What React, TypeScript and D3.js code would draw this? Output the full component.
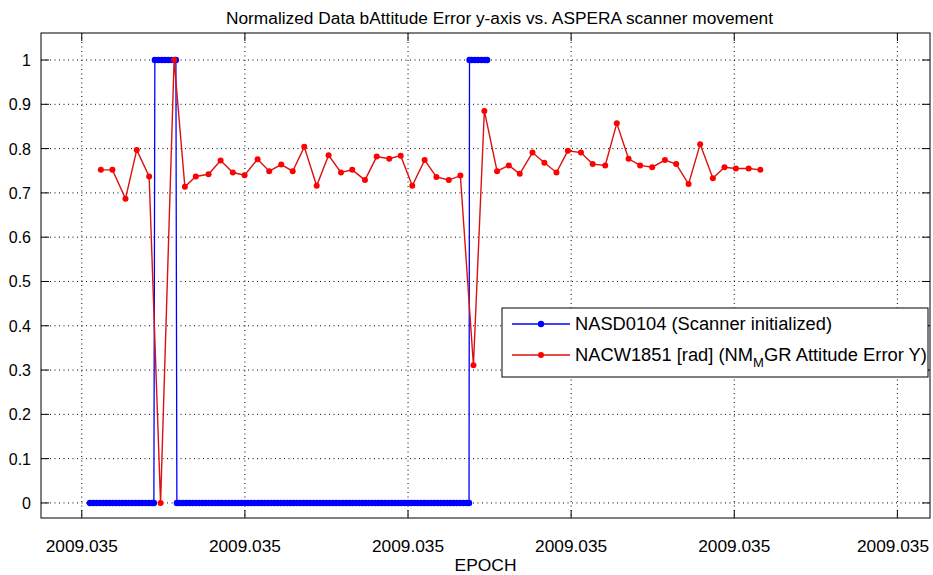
import React from "react";
import * as d3 from "d3";

const title = "Normalized Data bAttitude Error y-axis vs. ASPERA scanner movement";
const xLabel = "EPOCH";
const xTicks = [0, 1, 2, 3, 4, 5];
const xTickLabels = ["2009.035", "2009.035", "2009.035", "2009.035", "2009.035", "2009.035"];
const yTicks = [0, 0.1, 0.2, 0.3, 0.4, 0.5, 0.6, 0.7, 0.8, 0.9, 1];
const yTickLabels = ["0", "0.1", "0.2", "0.3", "0.4", "0.5", "0.6", "0.7", "0.8", "0.9", "1"];

// Red series: NACW1851 (x in tick units, y normalized)
const redX = [0.117, 0.188, 0.268, 0.337, 0.413, 0.483, 0.566, 0.632, 0.699, 0.777, 0.851, 0.926, 0.998, 1.078, 1.149, 1.223, 1.293, 1.364, 1.44, 1.513, 1.589, 1.658, 1.736, 1.808, 1.885, 1.955, 2.026, 2.102, 2.174, 2.25, 2.321, 2.401, 2.468, 2.546, 2.618, 2.685, 2.763, 2.836, 2.91, 2.98, 3.06, 3.132, 3.209, 3.28, 3.352, 3.423, 3.497, 3.575, 3.644, 3.72, 3.791, 3.869, 3.94, 4.01, 4.088, 4.16];
const redY = [0.752, 0.752, 0.687, 0.797, 0.737, 0.0, 1.0, 0.714, 0.737, 0.742, 0.773, 0.746, 0.74, 0.776, 0.749, 0.764, 0.749, 0.804, 0.716, 0.785, 0.746, 0.752, 0.729, 0.782, 0.777, 0.784, 0.716, 0.774, 0.736, 0.729, 0.739, 0.311, 0.885, 0.749, 0.762, 0.743, 0.791, 0.768, 0.746, 0.795, 0.791, 0.765, 0.762, 0.857, 0.777, 0.762, 0.758, 0.774, 0.765, 0.72, 0.81, 0.733, 0.758, 0.755, 0.755, 0.752];

// Blue series: NASD0104, sampled densely, four constant-level stretches
const blueTimesA = [0.05, 0.07, 0.09, 0.11, 0.13, 0.15, 0.17, 0.19, 0.21, 0.23, 0.25, 0.27, 0.29, 0.31, 0.33, 0.35, 0.37, 0.39, 0.41, 0.43, 0.442];
const blueTimesB = [0.448, 0.47, 0.49, 0.51, 0.53, 0.55, 0.57, 0.577];
const blueTimesC = [0.583, 0.6, 0.62, 0.64, 0.66, 0.68, 0.7, 0.72, 0.74, 0.76, 0.78, 0.8, 0.82, 0.84, 0.86, 0.88, 0.9, 0.92, 0.94, 0.96, 0.98, 1.0, 1.02, 1.04, 1.06, 1.08, 1.1, 1.12, 1.14, 1.16, 1.18, 1.2, 1.22, 1.24, 1.26, 1.28, 1.3, 1.32, 1.34, 1.36, 1.38, 1.4, 1.42, 1.44, 1.46, 1.48, 1.5, 1.52, 1.54, 1.56, 1.58, 1.6, 1.62, 1.64, 1.66, 1.68, 1.7, 1.72, 1.74, 1.76, 1.78, 1.8, 1.82, 1.84, 1.86, 1.88, 1.9, 1.92, 1.94, 1.96, 1.98, 2.0, 2.02, 2.04, 2.06, 2.08, 2.1, 2.12, 2.14, 2.16, 2.18, 2.2, 2.22, 2.24, 2.26, 2.28, 2.3, 2.32, 2.34, 2.36, 2.374];
const blueTimesD = [2.377, 2.39, 2.41, 2.43, 2.45, 2.47, 2.485];
const blueLevels = [0, 1, 0, 1];

const legendLabels = ["NASD0104 (Scanner initialized)", "NACW1851 [rad] (NM", "M", "GR Attitude Error Y)"];

const W = 933;
const H = 575;
const L = 41, R = 930, T = 33, B = 518;
const FONT = "'Liberation Sans', Arial, Helvetica, sans-serif";

export default function App() {
  const x = d3.scaleLinear().domain([-0.25, 5.2]).range([L, R]);
  const y = d3.scaleLinear().domain([-0.034, 1.061]).range([B, T]);

  const red = redX.map((v, i) => [v, redY[i]] as [number, number]);
  const blue: [number, number][] = [];
  [blueTimesA, blueTimesB, blueTimesC, blueTimesD].forEach((ts, k) => {
    ts.forEach((t) => blue.push([t, blueLevels[k]]));
  });

  const line = d3.line<[number, number]>().x((d) => x(d[0])).y((d) => y(d[1]));
  const tickLen = 8;

  const lgX = 502, lgY = 308, lgW = 426, lgH = 69;
  const row1 = 324, row2 = 355;

  return (
    <svg width={W} height={H} style={{ position: "absolute", left: 0, top: 0, background: "#fff" }} fontFamily={FONT}>
      <rect x={0} y={0} width={W} height={H} fill="#fff" />
      <rect x={L} y={T} width={R - L} height={B - T} fill="#fff" />
      {/* grid */}
      {xTicks.map((t) => (
        <line key={"gx" + t} x1={x(t)} x2={x(t)} y1={T} y2={B} stroke="#000" strokeWidth={1} strokeDasharray="1,3.5" />
      ))}
      {yTicks.map((t) => (
        <line key={"gy" + t} x1={L} x2={R} y1={y(t)} y2={y(t)} stroke="#000" strokeWidth={1} strokeDasharray="1,3.5" />
      ))}
      {/* series */}
      <path d={line(blue) || ""} fill="none" stroke="#0000ff" strokeWidth={1.3} />
      {blue.map((d, i) => (
        <circle key={"b" + i} cx={x(d[0])} cy={y(d[1])} r={3.2} fill="#0000ff" />
      ))}
      <path d={line(red) || ""} fill="none" stroke="#dd1010" strokeWidth={1.4} />
      {red.map((d, i) => (
        <circle key={"r" + i} cx={x(d[0])} cy={y(d[1])} r={3} fill="#ff0000" />
      ))}
      {/* box and ticks */}
      <rect x={L} y={T} width={R - L} height={B - T} fill="none" stroke="#000" strokeWidth={1} />
      {xTicks.map((t) => (
        <g key={"tx" + t}>
          <line x1={x(t)} x2={x(t)} y1={B} y2={B - tickLen} stroke="#000" />
          <line x1={x(t)} x2={x(t)} y1={T} y2={T + tickLen} stroke="#000" />
        </g>
      ))}
      {yTicks.map((t) => (
        <g key={"ty" + t}>
          <line x1={L} x2={L + tickLen} y1={y(t)} y2={y(t)} stroke="#000" />
          <line x1={R} x2={R - tickLen} y1={y(t)} y2={y(t)} stroke="#000" />
        </g>
      ))}
      {/* tick labels */}
      {xTicks.map((t, i) => (
        <text key={"lx" + t} x={Math.min(x(t), 893)} y={552} textAnchor="middle" fontSize={16} fill="#000" textLength={72} lengthAdjust="spacingAndGlyphs">
          {xTickLabels[i]}
        </text>
      ))}
      {yTicks.map((t, i) => (
        <text key={"ly" + t} x={31} y={y(t) + 6} textAnchor="end" fontSize={16} fill="#000">
          {yTickLabels[i]}
        </text>
      ))}
      <text x={(L + R) / 2} y={571} textAnchor="middle" fontSize={16} fill="#000" textLength={62} lengthAdjust="spacingAndGlyphs">
        {xLabel}
      </text>
      <text x={499.5} y={24} textAnchor="middle" fontSize={16} fill="#000" textLength={547} lengthAdjust="spacingAndGlyphs">
        {title}
      </text>
      {/* legend */}
      <rect x={lgX} y={lgY} width={lgW} height={lgH} fill="#fff" stroke="#000" strokeWidth={1} />
      <line x1={512} x2={570} y1={row1} y2={row1} stroke="#0000ff" strokeWidth={1.3} />
      <circle cx={541} cy={row1} r={3.2} fill="#0000ff" />
      <line x1={512} x2={570} y1={row2} y2={row2} stroke="#dd1010" strokeWidth={1.4} />
      <circle cx={541} cy={row2} r={3} fill="#ff0000" />
      <text x={575} y={row1 + 6} fontSize={18} fill="#000" textLength={257} lengthAdjust="spacingAndGlyphs">
        {legendLabels[0]}
      </text>
      <text x={575} y={row2 + 6} fontSize={18} fill="#000" textLength={178} lengthAdjust="spacingAndGlyphs">
        {legendLabels[1]}
      </text>
      <text x={753} y={row2 + 12} fontSize={13} fill="#000">
        {legendLabels[2]}
      </text>
      <text x={764} y={row2 + 6} fontSize={18} fill="#000" textLength={163} lengthAdjust="spacingAndGlyphs">
        {legendLabels[3]}
      </text>
    </svg>
  );
}
